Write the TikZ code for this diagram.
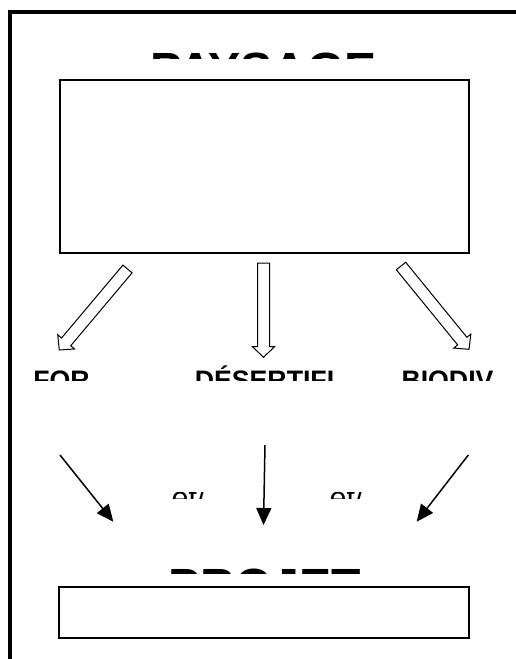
\documentclass[tikz,border=0pt]{standalone}
\usepackage{fontspec}
\setmainfont{Liberation Sans}
\usetikzlibrary{calc,arrows.meta}
\newcommand\hollowarrow[2]{%
  \coordinate (hh) at ($(#2)!10.6pt!(#1)$);
  \draw[hollow] ($(#1)!6pt!90:(#2)$) -- ($(hh)!6pt!90:(#2)$) -- ($(hh)!11pt!90:(#2)$) -- (#2)
     -- ($(hh)!11pt!-90:(#2)$) -- ($(hh)!6pt!-90:(#2)$) -- ($(#1)!6pt!-90:(#2)$) -- cycle;}
\begin{document}
\begin{tikzpicture}[x=1pt,y=-1pt,
  frame/.style={line width=4pt, line join=miter},
  boxnode/.style={draw, line width=1.5pt, inner sep=0pt},
  bigtxt/.style={anchor=base, inner sep=0pt, font=\bfseries\fontsize{48}{48}\selectfont},
  midtxt/.style={anchor=base, inner sep=0pt, font=\bfseries\fontsize{26.7}{27}\selectfont},
  smalltxt/.style={anchor=base, inner sep=0pt, font=\fontsize{30.5}{31}\selectfont},
  hollow/.style={draw, line width=1pt, line join=miter, fill=white},
  thinarrow/.style={line width=1.5pt, -{Triangle[length=17pt,width=15pt]}}]
\useasboundingbox (0,0) rectangle (516,659);
% outer frame
\draw[frame] (9.5,659) -- (9.5,11.5) -- (516,11.5);
% boxes
\node[boxnode, minimum width=409pt, minimum height=173pt] (pays) at (264.5,166.5) {};
\node[boxnode, minimum width=410pt, minimum height=51pt] (proj) at (264,612.5) {};
% clipped titles
\begin{scope}
  \clip (0,0) rectangle (516,58.3);
  \node[bigtxt] (tpays) at (263.5,86.1) {PAYSAGE};
\end{scope}
\begin{scope}
  \clip (0,0) rectangle (516,380);
  \node[midtxt] (tfor) at (61.5,389) {FOR};
  \node[midtxt] (tdes) at (264.5,389) {DÉSERTIFI};
  \node[midtxt] (tbio) at (447.5,389) {BIODIV};
\end{scope}
\begin{scope}
  \clip (0,492) rectangle (516,498.5);
  \node[smalltxt] (et1) at (188.5,508) {et/};
  \node[smalltxt] (et2) at (346.5,508) {et/};
\end{scope}
\begin{scope}
  \clip (0,0) rectangle (516,573);
  \node[bigtxt] (tproj) at (265,602.4) {PROJET};
\end{scope}
% hollow arrows
\coordinate (a1s) at (127.5,269);
\coordinate (a1e) at (59.3,350);
\coordinate (a2s) at (263.5,263);
\coordinate (a2e) at (263.5,357.3);
\coordinate (a3s) at (401,266);
\coordinate (a3e) at (469,349.3);
\hollowarrow{a1s}{a1e}
\hollowarrow{a2s}{a2e}
\hollowarrow{a3s}{a3e}
% thin arrows
\coordinate (b1s) at (60,455);
\coordinate (b1e) at (113.3,521.7);
\coordinate (b2s) at (265,445);
\coordinate (b2e) at (263.5,525);
\coordinate (b3s) at (468.3,455);
\coordinate (b3e) at (416.7,521.7);
\draw[thinarrow] (b1s) -- (b1e);
\draw[thinarrow] (b2s) -- (b2e);
\draw[thinarrow] (b3s) -- (b3e);
\end{tikzpicture}
\end{document}
